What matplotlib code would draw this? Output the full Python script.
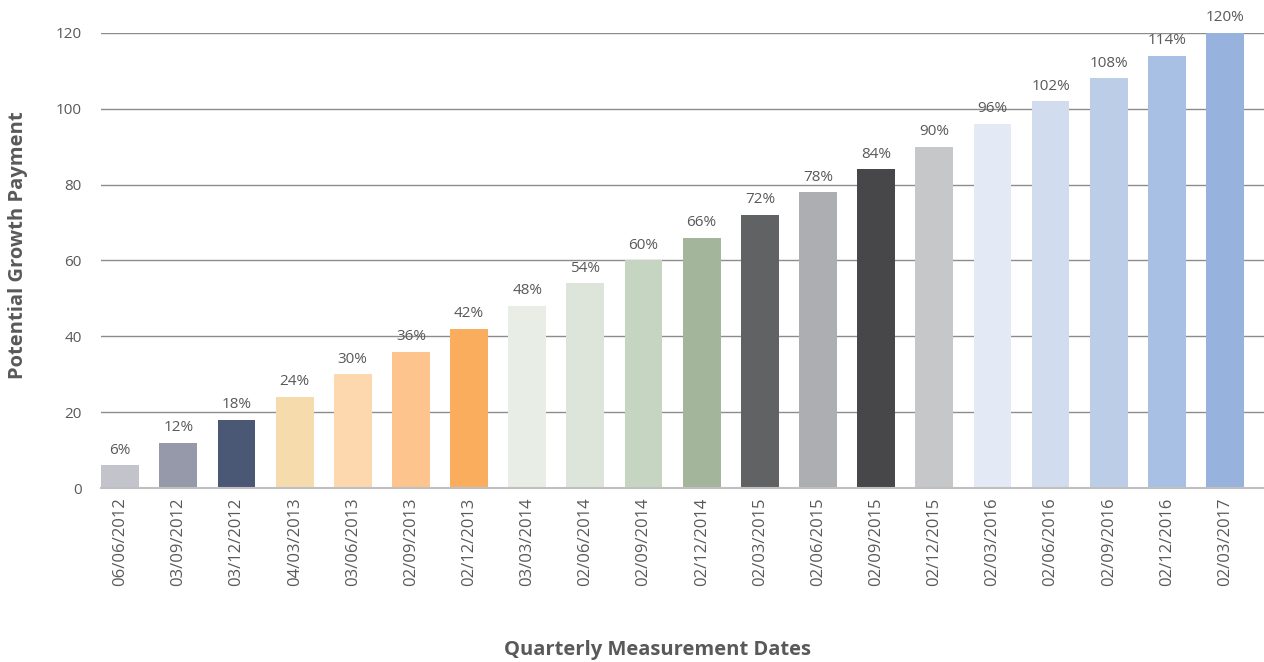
import matplotlib
matplotlib.use("Agg")
import matplotlib.pyplot as plt

dates = ["06/06/2012", "03/09/2012", "03/12/2012", "04/03/2013", "03/06/2013",
         "02/09/2013", "02/12/2013", "03/03/2014", "02/06/2014", "02/09/2014",
         "02/12/2014", "02/03/2015", "02/06/2015", "02/09/2015", "02/12/2015",
         "02/03/2016", "02/06/2016", "02/09/2016", "02/12/2016", "02/03/2017"]
values = [6, 12, 18, 24, 30, 36, 42, 48, 54, 60, 66, 72, 78, 84, 90, 96, 102, 108, 114, 120]
colors = ["#c3c3cb", "#9599aa", "#4a5875", "#f6dbad", "#fdd7ae", "#fdc58d", "#fbad5e",
          "#e8ede6", "#dde5da", "#c6d5c1", "#a3b69c", "#616264", "#adaeb1", "#474749",
          "#c6c7c9", "#e4e9f6", "#d1dcef", "#bccde8", "#a8c0e4", "#97b3dd"]
yticks = [0, 20, 40, 60, 80, 100, 120]

plt.rcParams['font.family'] = ['Open Sans', 'DejaVu Sans']
txt = "#595959"

fig = plt.figure(figsize=(12.64, 6.62), dpi=100)
ax = fig.add_axes([0.0799, 0.2628, 0.9201, 0.6874])
x = list(range(len(values)))
bars = ax.bar(x, values, width=0.65, color=colors, zorder=2)
for xi, v in zip(x, values):
    ax.text(xi, v + 2, f"{v}%", ha="center", va="bottom", fontsize=11,
            color=txt, clip_on=False)

ax.set_xlim(-0.33, 19.67)
ax.set_ylim(0, 120)
ax.set_yticks(yticks)
ax.set_yticklabels([str(t) for t in yticks], fontsize=11, color=txt)
ax.set_xticks(x)
ax.set_xticklabels(dates, rotation=90, fontsize=12, color=txt)
ax.tick_params(axis="both", length=0)
ax.tick_params(axis="y", pad=14)
ax.tick_params(axis="x", pad=7)
ax.grid(axis="y", color="#8c8c8c", linewidth=1.0, zorder=0)
ax.set_axisbelow(True)
for s in ["top", "right", "left"]:
    ax.spines[s].set_visible(False)
ax.spines["bottom"].set_color("#c0c0c0")
ax.spines["bottom"].set_linewidth(1.5)
ax.spines["bottom"].set_zorder(3)

fig.text(0.006, 0.63, "Potential Growth Payment", rotation=90, ha="left", va="center",
         fontsize=14.5, fontweight="bold", color=txt)
fig.text(0.52, 0.018, "Quarterly Measurement Dates", ha="center", va="center",
         fontsize=14.5, fontweight="bold", color=txt)

fig.savefig("out.png", dpi=100)
